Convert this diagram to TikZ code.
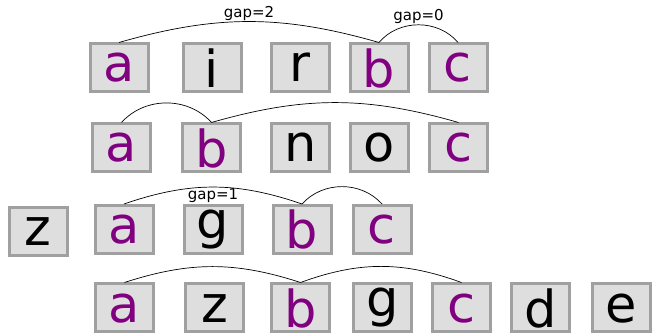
\documentclass[tikz,border=0pt]{standalone}
\usepackage{fontspec}
\setsansfont{DejaVu Sans}
\usetikzlibrary{positioning}
\definecolor{matchpurple}{HTML}{800080}
\definecolor{cellfill}{HTML}{DEDEDE}
\definecolor{celledge}{HTML}{A0A0A0}

\begin{document}
\begin{tikzpicture}
        [
            x = 1pt, y = 1pt,
            cell/.style = {
                draw=celledge, fill=cellfill, line width=3pt, rectangle,
                minimum width=58pt, minimum height=48pt, inner sep=0pt,
                text height=28pt, text depth=0pt,
                font=\sffamily\fontsize{51}{55}\selectfont},
            hit/.style = {cell, text=matchpurple},
            tall/.style = {text height=39pt, text depth=0pt},
            deep/.style = {text height=28pt, text depth=10.6pt},
            link/.style = {line width=0.7pt},
            gaplabel/.style = {font=\sffamily\fontsize{15}{18}\selectfont, inner sep=1pt}
        ]
        \useasboundingbox (0,0) rectangle (652,334);
        % row 1: a i r b c
        \node [hit] (a1) at (119,266) {a};
        \node [cell, tall] (i1) [right=32pt of a1] {i};
        \node [cell] (r1) [right=27pt of i1] {r};
        \node [hit, tall] (b1) [right=18pt of r1] {b};
        \node [hit] (c1) [right=18pt of b1] {c};
        \draw [link] (a1.north) to [bend left=16] node [gaplabel, above] (gap2) {gap=2} (b1.north);
        \draw [link] (b1.north) to [bend left=50] node [gaplabel, above] (gap0) {gap=0} (c1.north);
        % row 2: a b n o c
        \node [hit] (a2) at (121.5,186) {a};
        \node [hit, tall] (b2) [right=29pt of a2] {b};
        \node [cell] (n2) [right=28pt of b2] {n};
        \node [cell] (o2) [right=18pt of n2] {o};
        \node [hit] (c2) [right=18pt of o2] {c};
        \draw [link] (a2.north) to [bend left=48] (b2.north);
        \draw [link] (b2.north) to [bend left=16] (c2.north);
        % row 3: z a g b c
        \node [cell] (z3) at (38,102.5) {z};
        \node [hit] (a3) at (124,104.5) {a};
        \node [cell, deep] (g3) [right=28pt of a3] {g};
        \node [hit, tall] (b3) [right=28pt of g3] {b};
        \node [hit] (c3) [right=19pt of b3] {c};
        \draw [link] (a3.north) to [bend left=19] node [gaplabel, below] (gap1) {gap=1} (b3.north);
        \draw [link] (b3.north) to [bend left=48] (c3.north);
        % row 4: a z b g c d e
        \node [hit] (a4) at (124.5,26) {a};
        \node [cell] (z4) [right=29pt of a4] {z};
        \node [hit, tall] (b4) [right=25pt of z4] {b};
        \node [cell, deep] (g4) [right=21pt of b4] {g};
        \node [hit] (c4) [right=18pt of g4] {c};
        \node [cell, tall] (d4) [right=18pt of c4] {d};
        \node [cell] (e4) [right=20pt of d4] {e};
        \draw [link] (a4.north) to [bend left=18] (b4.north);
        \draw [link] (b4.north) to [bend left=20] (c4.north);
    \end{tikzpicture}
\end{document}
